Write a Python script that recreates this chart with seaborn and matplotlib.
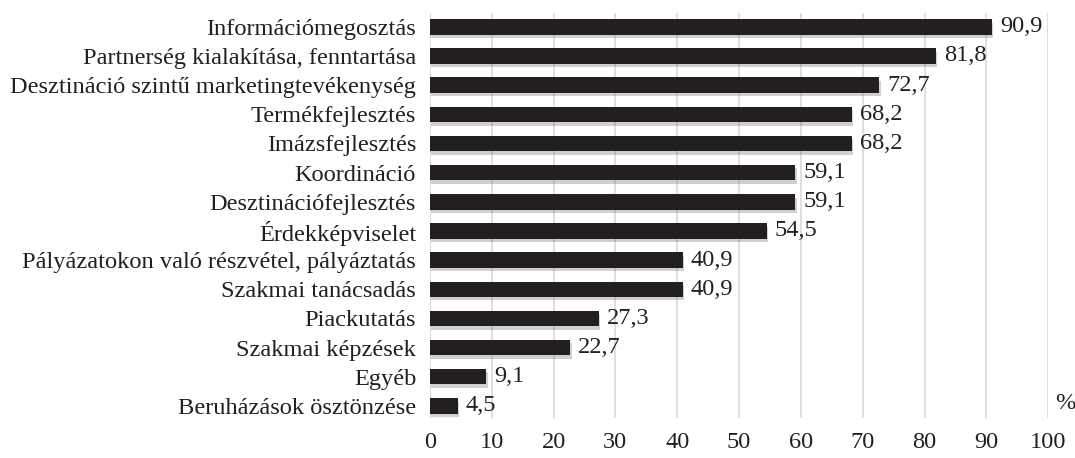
import pandas as pd
import numpy as np
import matplotlib.pyplot as plt
import matplotlib.patheffects as pe
import seaborn as sns

# values
categories = [
    "Információmegosztás",
    "Partnerség kialakítása, fenntartása",
    "Desztináció szintű marketingtevékenység",
    "Termékfejlesztés",
    "Imázsfejlesztés",
    "Koordináció",
    "Desztinációfejlesztés",
    "Érdekképviselet",
    "Pályázatokon való részvétel, pályáztatás",
    "Szakmai tanácsadás",
    "Piackutatás",
    "Szakmai képzések",
    "Egyéb",
    "Beruházások ösztönzése",
]
values = [90.9, 81.8, 72.7, 68.2, 68.2, 59.1, 59.1, 54.5, 40.9, 40.9, 27.3, 22.7, 9.1, 4.5]
x_ticks = [0, 10, 20, 30, 40, 50, 60, 70, 80, 90, 100]

df = pd.DataFrame({"category": categories, "value": values})

sns.set_style("white")
plt.rcParams["font.family"] = ["Liberation Serif", "DejaVu Serif"]
fs = 17.6

fig = plt.figure(figsize=(10.75, 4.58), dpi=100)
ax = fig.add_axes([0.4, 0.087, 0.575, 0.885])

sns.barplot(data=df, x="value", y="category", color="#231f20", width=0.53,
            saturation=1, linewidth=0, ax=ax, zorder=3)

# soft shadow under the bars
for p in ax.patches:
    p.set_path_effects([pe.SimplePatchShadow(offset=(1, -2.5), alpha=0.25, shadow_rgbFace="#444444"),
                        pe.Normal()])

for i, v in enumerate(values):
    ax.text(v + 1.3, i, f"{v:.1f}".replace(".", ","), va="center", ha="left",
            fontsize=fs, color="#231f20")

ax.set_xlim(0, 100)
ax.set_ylim(13.42, -0.48)
ax.set_xticks(x_ticks)
ax.xaxis.grid(True, color="#d9d9d9", linewidth=1.2, zorder=0)
ax.yaxis.grid(False)
for s in ax.spines.values():
    s.set_visible(False)
ax.axvline(0, color="#d9d9d9", linewidth=1.2, zorder=1)

ax.set_xlabel("")
ax.set_ylabel("")
ax.tick_params(axis="x", length=0, pad=10, labelsize=fs, colors="#231f20")
ax.tick_params(axis="y", length=0, pad=10, labelsize=fs, colors="#231f20")

ax.text(1.012, 0.035, "%", transform=ax.transAxes, fontsize=fs, color="#231f20",
        ha="left", va="center")

fig.savefig("out.png", dpi=100)
